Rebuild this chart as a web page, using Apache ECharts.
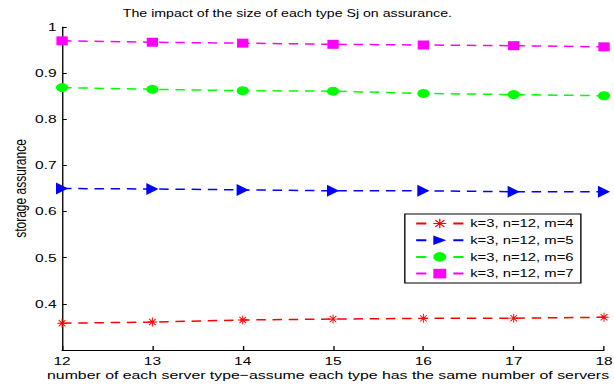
<!DOCTYPE html>
<html><head><meta charset="utf-8">
<script src="https://cdn.jsdelivr.net/npm/echarts@6/dist/echarts.min.js"></script>
<style>
html,body{margin:0;padding:0;background:#fff;overflow:hidden;width:614px;height:388px;}
#c{width:455px;height:388px;transform:scaleX(1.34945);transform-origin:0 0;}
</style></head><body><div id="c"></div>
<script>
// Data
const serverCounts = [12, 13, 14, 15, 16, 17, 18];
const seriesNames = ['k=3, n=12, m=4', 'k=3, n=12, m=5', 'k=3, n=12, m=6', 'k=3, n=12, m=7'];
const assuranceM4 = [0.358, 0.3606, 0.365, 0.367, 0.3686, 0.369, 0.371];
const assuranceM5 = [0.650, 0.649, 0.647, 0.645, 0.645, 0.643, 0.643];
const assuranceM6 = [0.8687, 0.865, 0.862, 0.861, 0.856, 0.8535, 0.851];
const assuranceM7 = [0.970, 0.967, 0.965, 0.9625, 0.961, 0.9595, 0.957];
const yTicks = [0.3, 0.4, 0.5, 0.6, 0.7, 0.8, 0.9, 1];

const FONT = 'Liberation Sans, Arial, Helvetica, sans-serif';
const star = 'path://M0 9L20 9L20 11L0 11Z M9 0L11 0L11 20L9 20Z M2.3 3.7L3.7 2.3L17.7 16.3L16.3 17.7Z M16.3 2.3L17.7 3.7L3.7 17.7L2.3 16.3Z';

function mk(name, vals, color, symbol, size, rotate) {
  return {
    type: 'line', name: name,
    data: serverCounts.map((x, i) => [x, vals[i]]),
    symbol: symbol, symbolSize: size, symbolRotate: rotate || 0,
    showAllSymbol: true,
    lineStyle: { color: color, width: 1.5, type: [7, 5] },
    itemStyle: { color: color, opacity: 1 },
    emphasis: { disabled: true },
    animation: false, z: 2
  };
}

const chart = echarts.init(document.getElementById('c'), null, { renderer: 'svg' });
chart.setOption({
  animation: false,
  backgroundColor: '#fff',
  title: {
    text: 'The impact of the size of each type Sj on assurance.',
    left: 91, top: 8, padding: 0,
    textStyle: { fontSize: 10.5, fontWeight: 'normal', color: '#000', fontFamily: FONT }
  },
  grid: { left: 46, right: 7.4, top: 27, bottom: 38, containLabel: false, outerBoundsMode: 'none' },
  legend: {
    orient: 'vertical', left: 300, top: 214,
    data: seriesNames,
    borderColor: '#000', borderWidth: 1, backgroundColor: '#fff',
    padding: [4, 5.3, 4, 7.4],
    itemWidth: 35, itemHeight: 12, itemGap: 5.7,
    lineStyle: { type: [7.5, 20] },
    symbolRotate: 'inherit',
    textStyle: { fontSize: 11, color: '#000', fontFamily: FONT },
    z: 5
  },
  xAxis: {
    type: 'value', min: 12, max: 18, interval: 1,
    name: 'number of each server type\u2212assume each type has the same number of servers',
    nameLocation: 'middle', nameGap: 19, nameMoveOverlap: false,
    nameTextStyle: { fontSize: 11.75, color: '#000', fontFamily: FONT, padding: [0, 7.4, 0, 0] },
    axisLine: { show: true, lineStyle: { color: '#000', width: 1 } },
    axisTick: { show: true, inside: true, length: 4, lineStyle: { color: '#000' } },
    axisLabel: { fontSize: 11.5, color: '#000', fontFamily: FONT, margin: 5 },
    splitLine: { show: false }
  },
  yAxis: {
    type: 'value', min: yTicks[0], max: yTicks[yTicks.length - 1], interval: 0.1,
    name: 'storage assurance', nameLocation: 'middle', nameGap: 25, nameRotate: 90, nameMoveOverlap: false,
    nameTextStyle: { fontSize: 12, color: '#000', fontFamily: FONT },
    axisLine: { show: true, lineStyle: { color: '#000', width: 1 } },
    axisTick: { show: true, inside: true, length: 3.5, lineStyle: { color: '#000' } },
    axisLabel: { fontSize: 11.5, color: '#000', fontFamily: FONT, margin: 4, showMinLabel: false,
      formatter: v => String(Math.round(v * 10) / 10) },
    splitLine: { show: false }
  },
  series: [
    mk(seriesNames[0], assuranceM4, '#ff0000', star, [7, 9]),
    mk(seriesNames[1], assuranceM5, '#0000ff', 'triangle', [12, 9], -90),
    mk(seriesNames[2], assuranceM6, '#00ff00', 'circle', [9, 9]),
    mk(seriesNames[3], assuranceM7, '#ff00ff', 'rect', [8.4, 9])
  ]
});
</script></body></html>
